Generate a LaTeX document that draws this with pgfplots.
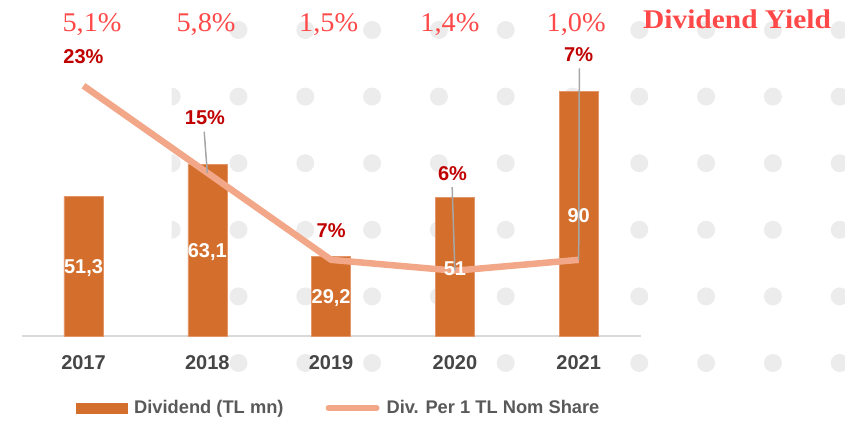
\documentclass[border=0pt]{standalone}
\usepackage{fontspec}
\setmainfont{Liberation Sans}
\newfontfamily\yieldfont{Liberation Serif}
\usepackage{pgfplots}
\pgfplotsset{compat=1.18}
\usepackage{pgfplotstable}
\definecolor{barc}{RGB}{211,110,44}
\definecolor{barE}{RGB}{226,150,105}
\definecolor{linec}{RGB}{242,167,137}
\definecolor{dotc}{RGB}{236,236,236}
\definecolor{lblred}{RGB}{192,0,0}
\definecolor{yieldred}{RGB}{255,72,72}
\definecolor{tickc}{RGB}{70,70,70}
\definecolor{legc}{RGB}{89,89,89}
\definecolor{leader}{RGB}{166,166,166}
\definecolor{axisc}{RGB}{217,217,217}

\pgfplotstableread{
x y label
0 51.3 {51,3}
1 63.1 {63,1}
2 29.2 {29,2}
3 51 {51}
4 90 {90}
}\dividend
\pgfplotstableread{
x y
0 23
1 15
2 7
3 6
4 7
}\dps

\begin{document}
\begin{tikzpicture}
\useasboundingbox (0bp,0bp) rectangle (845bp,421bp);
% decorative background dots
\foreach \k in {1,2,3,4,5,7,8,9,10}{\fill[dotc] ({(171.7+66.8*\k)*1bp},{(421-30)*1bp}) circle (9bp);}
\foreach \j in {1,...,4}{
  \foreach \k in {1,...,10}{\fill[dotc] ({(171.7+66.8*\k)*1bp},{(421-30-66.6*\j)*1bp}) circle (9bp);}
}
\foreach \k in {1,2,3,5,7,8,9,10}{\fill[dotc] ({(171.7+66.8*\k)*1bp},{(421-30-66.6*5)*1bp}) circle (9bp);}
\begin{scope}
\clip (171.7bp,0bp) rectangle (200bp,421bp);
\foreach \j in {1,2,3}{\fill[dotc] (171.7bp,{(421-30-66.6*\j)*1bp}) circle (9bp);}
\end{scope}

\begin{axis}[
  at={(21.6bp,85bp)}, anchor=south west,
  scale only axis, width=619bp, height=326.4bp,
  xmin=-0.5, xmax=4.5, ymin=0, ymax=120,
  axis x line*=bottom, axis y line=none,
  x axis line style={draw=axisc, line width=1.5bp, -},
  xtick={0,...,4}, xticklabels={2017,2018,2019,2020,2021},
  ytick=\empty,
  major tick length=0pt,
  xticklabel style={font=\fontsize{20bp}{24bp}\selectfont\bfseries, text=tickc, yshift=-16bp},
  clip=false,
  legend style={at={(0.512,-0.2206)}, anchor=center, draw=none, fill=none,
    legend columns=2, font=\fontsize{18.3bp}{22bp}\selectfont\bfseries, text=legc,
    /tikz/every odd column/.append style={column sep=5bp},
    /tikz/every even column/.append style={column sep=40bp},
    inner sep=0pt},
  legend cell align=left,
]
\addplot[ybar, bar width=39bp, fill=barc, draw=barE, line width=0.5bp,
  legend image code/.code={\fill[barc] (0bp,-5bp) rectangle (51bp,5bp);}]
  table[x=x,y=y] {\dividend};
\addlegendentry{Dividend (TL mn)}

\addplot[linec, line width=6.5bp, line join=round, mark=none, y filter/.expression={4*y},
  legend image code/.code={\draw[linec,line width=6bp,line cap=round] (3bp,0bp) -- (51bp,0bp);}]
  table[x=x,y=y] {\dps};
\addlegendentry{Div. Per 1 TL Nom Share}

% bar value labels (centred in the bars)
\addplot[draw=none, mark=none, forget plot, y filter/.expression={y/2},
  nodes near coords, point meta=explicit symbolic,
  nodes near coords style={anchor=center, text=white, font=\fontsize{20bp}{24bp}\selectfont\bfseries, inner sep=0pt, yshift=-2bp}]
  table[x=x,y=y,meta=label] {\dividend};

% leader lines
\draw[leader, line width=1.5bp] (axis cs:0.975,75.1) -- (axis cs:1,60);
\draw[leader, line width=1.5bp] (axis cs:2.978,54.7) -- (axis cs:3,24);
\draw[leader, line width=1.5bp] (axis cs:4.005,98.4) -- (axis cs:4,28);

% line labels
\begin{scope}[every node/.style={anchor=base, text=lblred, font=\fontsize{20bp}{24bp}\selectfont\bfseries, inner sep=0pt}]
\node at (axis cs:0,100.26) {23\%};
\node at (axis cs:0.981,77.94) {15\%};
\node at (axis cs:2.0,36.03) {7\%};
\node at (axis cs:2.981,57.35) {6\%};
\node at (axis cs:4.0,101.1) {7\%};
\end{scope}

% dividend yield labels
\begin{scope}[every node/.style={anchor=base, text=yieldred, font=\yieldfont\fontsize{27bp}{30bp}\selectfont, inner sep=0pt}]
\node at (axis cs:0.069,111.8) {\scalebox{1.05}[1]{5,1\%}};
\node at (axis cs:0.99,111.8) {\scalebox{1.05}[1]{5,8\%}};
\node at (axis cs:1.98,111.8) {\scalebox{1.05}[1]{1,5\%}};
\node at (axis cs:2.96,111.8) {\scalebox{1.05}[1]{1,4\%}};
\node at (axis cs:3.98,111.8) {\scalebox{1.05}[1]{1,0\%}};
\node at (axis cs:5.279,113.2) {\scalebox{1.09}[1]{\bfseries Dividend Yield}};
\end{scope}
\end{axis}
\end{tikzpicture}
\end{document}
